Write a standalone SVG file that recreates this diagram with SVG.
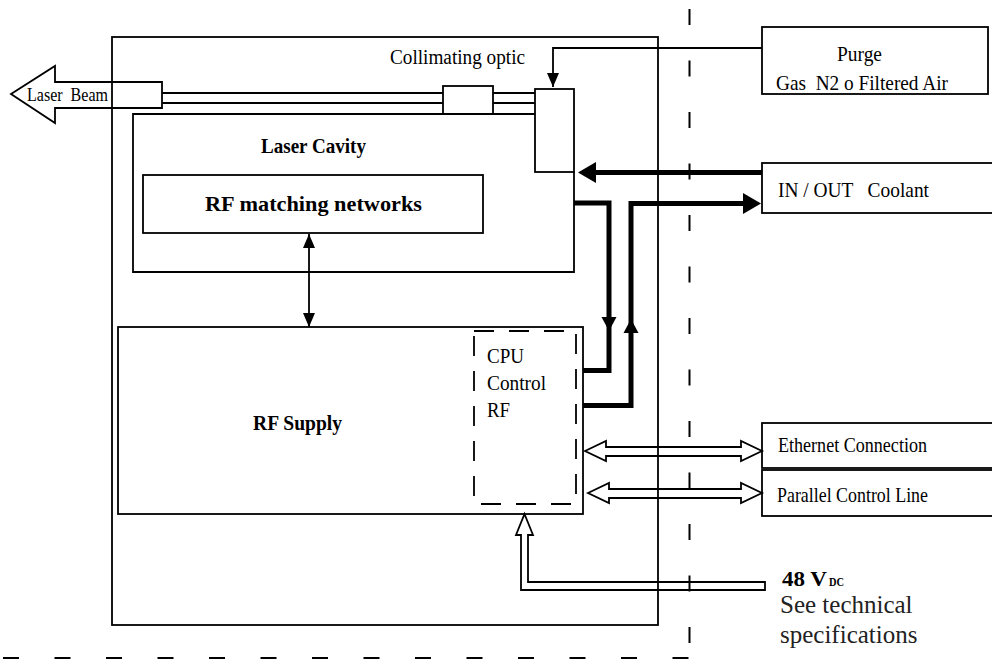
<svg xmlns="http://www.w3.org/2000/svg" width="992" height="660" viewBox="0 0 992 660">
<style>
.box{fill:none;stroke:#000;stroke-width:1.8}
.t{font-family:"Liberation Serif","Times New Roman",serif;fill:#000;white-space:pre}
.b{font-weight:bold}
.thick{fill:none;stroke:#000;stroke-width:5;stroke-linejoin:miter}
.thin{fill:none;stroke:#000;stroke-width:1.8}
.hollow{fill:none;stroke:#000;stroke-width:1.8;stroke-linejoin:miter}
.head{fill:#000;stroke:none}
.bound{fill:none;stroke:#000;stroke-width:2;stroke-dasharray:16 35.5}
.cpu{fill:none;stroke:#000;stroke-width:1.8;stroke-dasharray:20 15}
</style>
<defs>
<marker id="tri" viewBox="0 0 14 12" refX="14" refY="6" markerWidth="14" markerHeight="12" markerUnits="userSpaceOnUse" orient="auto-start-reverse">
<path d="M0,0 L14,6 L0,12 z" fill="#000"/>
</marker>
</defs>

<g id="boundary">
<path class="bound" d="M689.5,9 V660"/>
<path class="bound" d="M3,658 H692"/>
</g>

<g id="laser-head">
<rect class="box" x="112" y="37" width="546" height="588"/>
</g>

<g id="collimating-optic">
<rect class="box" x="535" y="89" width="39" height="83"/>
<text class="t" x="390" y="64" font-size="20" textLength="135" lengthAdjust="spacingAndGlyphs">Collimating optic</text>
</g>

<g id="optic-lens">
<rect class="box" x="443" y="86" width="50" height="28"/>
</g>

<g id="laser-cavity">
<path class="box" d="M535,114 H133 V272 H574 V172"/>
<text class="t b" x="261" y="153" font-size="22" textLength="105" lengthAdjust="spacingAndGlyphs">Laser Cavity</text>
</g>

<g id="rf-matching">
<rect class="box" x="143" y="175" width="340" height="58"/>
<text class="t b" x="205" y="211" font-size="22" textLength="217" lengthAdjust="spacingAndGlyphs">RF matching networks</text>
</g>

<g id="rf-supply">
<rect class="box" x="118" y="327" width="465" height="187"/>
<text class="t b" x="253" y="430" font-size="22" textLength="89" lengthAdjust="spacingAndGlyphs">RF Supply</text>
</g>

<g id="cpu-control">
<rect class="cpu" x="474" y="331" width="102" height="173"/>
<text class="t" x="487" y="363" font-size="22" textLength="37" lengthAdjust="spacingAndGlyphs">CPU</text>
<text class="t" x="487" y="390" font-size="22" textLength="59" lengthAdjust="spacingAndGlyphs">Control</text>
<text class="t" x="487" y="417" font-size="22" textLength="23" lengthAdjust="spacingAndGlyphs">RF</text>
</g>

<g id="laser-beam">
<polygon class="hollow" points="11,94 55,66 55,82 162,82 162,108 55,108 55,123"/>
<text class="t" x="27" y="101" font-size="19" textLength="81" lengthAdjust="spacingAndGlyphs">Laser  Beam</text>
</g>

<g id="purge">
<rect class="box" x="762" y="27" width="226" height="67"/>
<text class="t" x="837" y="61" font-size="22" textLength="45" lengthAdjust="spacingAndGlyphs">Purge</text>
<text class="t" x="776" y="90" font-size="22" textLength="172" lengthAdjust="spacingAndGlyphs">Gas  N2 o Filtered Air</text>
</g>

<g id="coolant">
<rect class="box" x="762" y="163" width="240" height="50"/>
<text class="t" x="778" y="197" font-size="21" textLength="151" lengthAdjust="spacingAndGlyphs">IN / OUT   Coolant</text>
</g>

<g id="ethernet">
<rect class="box" x="762" y="423" width="240" height="45"/>
<text class="t" x="778" y="452" font-size="21" textLength="149" lengthAdjust="spacingAndGlyphs">Ethernet Connection</text>
</g>

<g id="parallel">
<rect class="box" x="762" y="470" width="240" height="46"/>
<text class="t" x="777" y="502" font-size="21" textLength="151" lengthAdjust="spacingAndGlyphs">Parallel Control Line</text>
</g>

<g id="power">
<text class="t b" x="782" y="586" font-size="21" textLength="45" lengthAdjust="spacingAndGlyphs">48 V</text>
<text class="t b" x="829" y="586" font-size="13" textLength="15" lengthAdjust="spacingAndGlyphs">DC</text>
<text class="t" x="780" y="613" font-size="25" fill="#222" style="fill:#222">See technical</text>
<text class="t" x="780" y="643" font-size="25" style="fill:#222">specifications</text>
</g>

<g id="connectors">
<path class="thin" d="M162,93 H443 M493,93 H535 M162,103 H443 M493,103 H535"/>
<path class="thin" d="M762,48 H553 V87" marker-end="url(#tri)"/>
<path class="thin" d="M309,234 V327" marker-start="url(#tri)" marker-end="url(#tri)"/>
<path class="thick" d="M762,172.5 H594"/>
<polygon class="head" points="596,162 578,172.5 596,183"/>
<path class="thick" d="M574,203 H609 V370.5 H583"/>
<polygon class="head" points="601.5,317 616.5,317 609,331"/>
<path class="thick" d="M583,405.5 H631 V203.5 H745"/>
<polygon class="head" points="743,193 761,203.5 743,214"/>
<polygon class="head" points="623.5,333 638.5,333 631,319"/>
<polygon class="hollow" points="585,451 606,441 606,447 741,447 741,441 762,451 741,461 741,456 606,456 606,461"/>
<polygon class="hollow" points="588,493 609,483 609,489 741,489 741,483 762,493 741,503 741,498 609,498 609,503"/>
<polygon class="hollow" points="524.5,514 533,535 528,535 528,582 765,582 765,590 521,590 521,535 516,535"/>
</g>
</svg>
